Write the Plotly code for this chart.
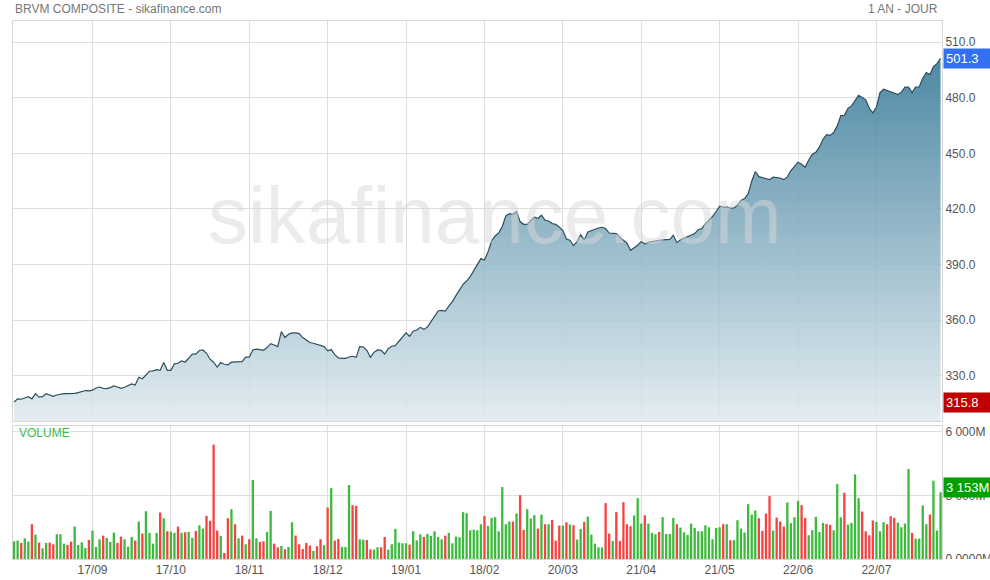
import plotly.graph_objects as go
from plotly.subplots import make_subplots

# BRVM composite, one point per trading day (index 0 = first session shown)
price = [
    315.8, 317.5, 317.3, 318.0, 318.7, 317.5, 320.3, 318.4, 318.7, 320.3,
    319.4, 318.9, 319.6, 320.0, 320.3, 320.3, 320.3, 320.5, 320.9, 321.4,
    322.0, 321.8, 322.2, 323.4, 323.9, 323.2, 323.0, 323.6, 324.5, 323.9,
    323.2, 323.8, 324.7, 325.6, 325.0, 329.2, 328.4, 330.4, 332.4, 332.6,
    333.3, 332.9, 337.1, 332.9, 332.9, 336.4, 336.7, 338.0, 337.4, 339.4,
    341.6, 341.6, 343.6, 343.9, 342.1, 338.9, 337.3, 334.7, 337.1, 336.2,
    335.8, 337.3, 337.4, 337.4, 337.6, 340.0, 340.0, 343.9, 344.3, 344.1,
    343.7, 345.2, 347.3, 346.6, 345.7, 353.8, 350.6, 352.3, 353.1, 353.1,
    352.7, 350.6, 349.1, 347.9, 347.5, 347.0, 346.2, 345.7, 343.4, 344.1,
    341.4, 339.6, 339.4, 339.4, 340.1, 340.5, 339.9, 345.7, 345.5, 343.7,
    339.9, 342.6, 343.9, 343.7, 341.7, 344.6, 345.9, 346.2, 348.6, 350.9,
    353.1, 351.3, 354.0, 354.7, 356.1, 355.0, 356.3, 359.2, 362.2, 364.9,
    365.3, 364.9, 367.6, 370.0, 373.2, 376.5, 379.3, 381.1, 383.5, 386.7,
    389.8, 393.2, 392.4, 396.8, 402.7, 405.4, 407.0, 410.5, 416.2, 417.5,
    417.1, 418.6, 413.2, 411.7, 411.7, 413.9, 415.7, 414.8, 416.6, 413.9,
    413.5, 412.1, 411.7, 410.3, 408.3, 403.8, 403.1, 400.2, 402.4, 406.1,
    403.3, 407.6, 408.3, 409.2, 409.7, 410.1, 409.4, 407.0, 406.9, 406.7,
    404.7, 403.3, 401.5, 397.7, 399.0, 400.4, 402.4, 401.1, 402.0, 402.5,
    402.9, 403.1, 403.3, 403.4, 403.6, 405.8, 401.8, 403.3, 404.2, 405.1,
    406.0, 406.7, 408.8, 409.4, 412.1, 414.1, 415.9, 418.6, 421.5, 421.0,
    421.1, 420.5, 420.5, 422.0, 424.5, 425.6, 428.1, 434.9, 440.1, 437.4,
    436.9, 436.4, 435.8, 437.1, 436.9, 436.7, 435.8, 437.3, 440.7, 443.2,
    445.2, 444.1, 442.5, 446.4, 449.5, 450.6, 453.3, 457.6, 460.1, 459.7,
    461.2, 464.8, 470.4, 470.5, 474.3, 475.6, 478.8, 481.3, 480.1, 478.8,
    474.3, 471.8, 474.9, 482.8, 484.6, 483.9, 483.3, 482.4, 481.7, 483.0,
    485.7, 485.7, 482.8, 485.7, 485.8, 490.5, 493.6, 492.5, 496.8, 498.4,
    501.3,
]

# volume in millions
volume = [
    837, 868, 758, 979, 821, 1642, 1153, 774, 505, 758,
    774, 695, 1168, 1168, 726, 663, 821, 1532, 663, 790,
    521, 900, 1342, 568, 932, 1105, 995, 805, 1247, 758,
    1058, 932, 584, 1042, 868, 1768, 1200, 2258, 1232, 726,
    1232, 2195, 1926, 1311, 1295, 1232, 1532, 1232, 1263, 1279,
    995, 1326, 1595, 1437, 2037, 1800, 5400, 1342, 1090, 284,
    1926, 2353, 1642, 979, 1105, 695, 932, 3726, 979, 805,
    837, 1279, 2274, 726, 553, 616, 458, 568, 1737, 1105,
    695, 474, 758, 632, 379, 600, 932, 647, 2432, 3347,
    868, 947, 568, 568, 3490, 2542, 2511, 932, 916, 900,
    458, 442, 553, 553, 1042, 442, 695, 1421, 774, 742,
    742, 679, 1311, 884, 1168, 1042, 1184, 1090, 1311, 1042,
    932, 1105, 1232, 742, 1058, 1026, 2211, 2163, 1358, 1390,
    1358, 1642, 2037, 1563, 1942, 1974, 1311, 3395, 1642, 1768,
    1768, 2147, 3016, 1374, 2353, 1911, 2068, 1437, 2100, 1642,
    1642, 1847, 868, 1579, 1579, 1737, 1626, 1595, 916, 1421,
    1753, 2005, 1153, 726, 553, 553, 2637, 1200, 853, 2211,
    853, 2684, 1642, 1547, 2053, 2874, 1674, 2068, 1674, 1232,
    1168, 1279, 1974, 1184, 1184, 1942, 1642, 1484, 1263, 1137,
    1674, 1468, 1311, 1311, 1595, 1500, 932, 1468, 1500, 1642,
    1642, 884, 884, 1832, 1437, 1247, 2590, 2100, 2290, 1926,
    1326, 2147, 2969, 1342, 1958, 1768, 1532, 2669, 1690, 1974,
    2747, 2542, 1942, 1121, 1358, 1990, 1279, 1705, 1658, 1611,
    1358, 3537, 1974, 3126, 1626, 1705, 3995, 2874, 2242, 1311,
    1121, 1816, 1753, 1311, 1737, 1642, 2021, 1942, 1721, 1500,
    1674, 4248, 1232, 963, 963, 2526, 1642, 2100, 3695, 1342, 3153,
]

# U = session up (green bar), D = session down (red bar)
direction = (
    "UUDUUDUDUU" "DDUUUDDUUU" "UDUUUDUUUD" "DUUUDUDUUU" "UDUDUUDUDU"
    "UDUUDDDDUD" "DUDUDUDUUD" "DUUDDUDUUD" "DDDDUDDUDU" "DDUUUDDUUD"
    "DUUDDUUUUU" "UDUUUDUUUU" "UDUUUUUUUU" "UUDUUUUUUU" "DUDDUUUDUD"
    "UDDDUDUDUU" "DUUUUUDDUD" "DDDDUUUDUU" "UDUUUUDUUU" "UUUUUUUUUD"
    "UDUUUUUUUD" "DDDUDDDUUU" "UDDUUUUUDD" "UUUDUUUUDD" "DDUUUDDDUU"
    "UUDUUUUDUUU"
)

tick_pos = [22, 44, 66, 88, 110, 132, 154, 176, 198, 220, 242]
tick_dates = ['17/09', '17/10', '18/11', '18/12', '19/01', '18/02',
              '20/03', '21/04', '21/05', '22/06', '22/07']
price_ticks = [330, 360, 390, 420, 450, 480, 510]
vol_ticks = [0, 3000, 6000]
vol_tick_text = ['0.0000M', '3 000M', '6 000M']

FONT = 'Arial, Liberation Sans, sans-serif'
GRID = '#dedede'
idx = list(range(len(price)))
bar_colors = ['#3dba3d' if d == 'U' else '#f84242' for d in direction]

fig = make_subplots(rows=2, cols=1, shared_xaxes=True)

fig.add_trace(go.Scatter(x=idx, y=price, mode='lines', fill='tozeroy',
                         line=dict(color='#2c4f5f', width=1.2),
                         fillgradient=dict(type='vertical', start=305.3, stop=521.4,
                                           colorscale=[[0, 'rgba(224,234,239,0.86)'],
                                                       [1, 'rgba(31,106,140,0.86)']]),
                         hoverinfo='skip', showlegend=False), row=1, col=1)
fig.add_trace(go.Bar(x=idx, y=volume, marker=dict(color=bar_colors, line=dict(width=0)),
                     hoverinfo='skip', showlegend=False), row=2, col=1)

axis_common = dict(showline=True, mirror=True, linecolor='#d6d6d6', linewidth=1,
                   gridcolor=GRID, gridwidth=1, zeroline=False, ticks='', automargin=False,
                   tickfont=dict(family=FONT, size=12, color='#555555'))
fig.update_xaxes(range=[-0.3, 260.4], tickmode='array', tickvals=tick_pos,
                 ticktext=tick_dates, **axis_common)
fig.update_xaxes(showticklabels=False, row=1, col=1)
fig.update_yaxes(side='right', **axis_common)
fig.update_yaxes(range=[305.3, 521.4], tickvals=price_ticks, tickformat='.1f',
                 domain=[0.2556, 1], row=1, col=1)
fig.update_yaxes(range=[0, 6280], tickvals=vol_ticks, ticktext=vol_tick_text,
                 domain=[0, 0.2472], row=2, col=1)

# watermark
fig.add_annotation(text='sikafinance.com', xref='paper', yref='paper', x=0.519, y=0.639,
                   showarrow=False, font=dict(family=FONT, size=80, color='rgba(215,215,215,0.5)'))
# header texts
fig.add_annotation(text='BRVM COMPOSITE - sikafinance.com', xref='paper', yref='paper',
                   x=0, y=1.0223, xanchor='left', yanchor='middle', showarrow=False,
                   font=dict(family=FONT, size=12, color='#777777'))
fig.add_annotation(text='1 AN - JOUR', xref='paper', yref='paper',
                   x=0.998, y=1.0223, xanchor='right', yanchor='middle', showarrow=False,
                   font=dict(family=FONT, size=12, color='#777777'))
fig.add_annotation(text='VOLUME', xref='paper', yref='paper', x=0.004, y=0.234,
                   xanchor='left', yanchor='middle', showarrow=False,
                   font=dict(family=FONT, size=12, color='#44bb44'))

# last / min value flags on the right scale
flags = [(price[-1], 'y', '#3470f2', f'{price[-1]:.1f}', 0),
         (min(price), 'y', '#c00000', f'{min(price):.1f}', 0),
         (volume[-1], 'y2', '#00a000', f'{volume[-1] // 1000} {volume[-1] % 1000:03d}M', 5)]
for val, yref, col, txt, shift in flags:
    fig.add_annotation(text=txt, xref='paper', yref=yref, x=1.001, y=val, yshift=shift,
                       xanchor='left', yanchor='middle', showarrow=False, align='left',
                       width=44, bgcolor=col, borderpad=2,
                       font=dict(family=FONT, size=13, color='white'))

# clip the bottom of the volume scale like the original
fig.add_shape(type='rect', xref='paper', yref='paper', x0=1.001, x1=1.06, y0=-0.05, y1=0,
              fillcolor='white', line=dict(width=0), layer='above')

fig.update_layout(width=990, height=580, margin=dict(l=13, r=48, t=21, b=21),
                  paper_bgcolor='white', plot_bgcolor='white', bargap=0.35,
                  font=dict(family=FONT))
# drop the default 8px body margin so the figure fills the window exactly
fig.write_html('out.html', config={'displayModeBar': False},
               post_script="document.body.style.margin = '0';")
